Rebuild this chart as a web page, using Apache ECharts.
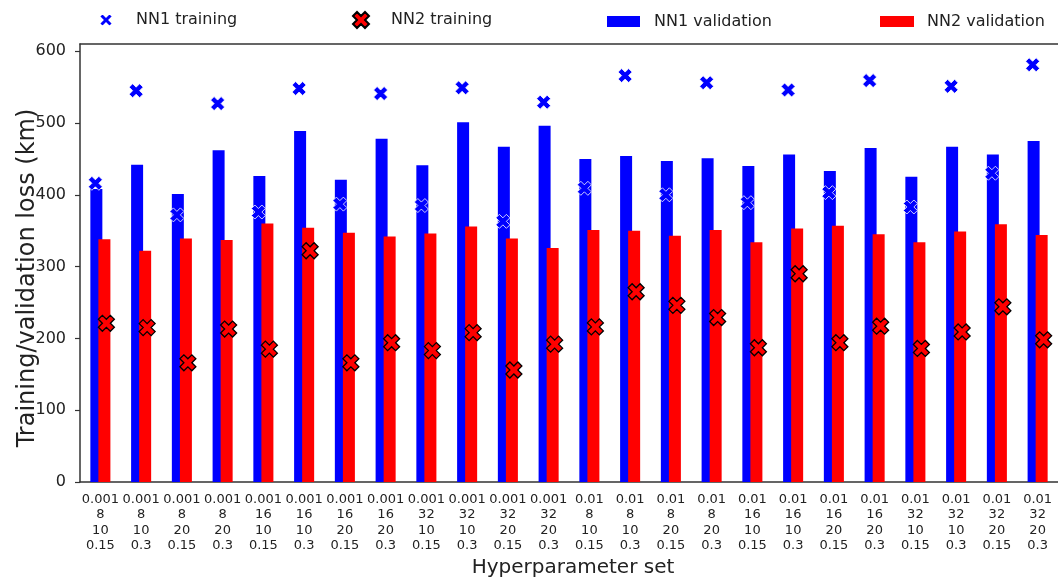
<!DOCTYPE html>
<html>
<head>
<meta charset="utf-8">
<script src="https://cdn.jsdelivr.net/npm/echarts@6/dist/echarts.min.js"></script>
<style>
html,body{margin:0;padding:0;background:#fff;}
#c{width:1058px;height:578px;}
</style>
</head>
<body>
<div id="c"></div>
<script>
const categories = [
  '0.001\n8\n10\n0.15', '0.001\n8\n10\n0.3', '0.001\n8\n20\n0.15', '0.001\n8\n20\n0.3',
  '0.001\n16\n10\n0.15', '0.001\n16\n10\n0.3', '0.001\n16\n20\n0.15', '0.001\n16\n20\n0.3',
  '0.001\n32\n10\n0.15', '0.001\n32\n10\n0.3', '0.001\n32\n20\n0.15', '0.001\n32\n20\n0.3',
  '0.01\n8\n10\n0.15', '0.01\n8\n10\n0.3', '0.01\n8\n20\n0.15', '0.01\n8\n20\n0.3',
  '0.01\n16\n10\n0.15', '0.01\n16\n10\n0.3', '0.01\n16\n20\n0.15', '0.01\n16\n20\n0.3',
  '0.01\n32\n10\n0.15', '0.01\n32\n10\n0.3', '0.01\n32\n20\n0.15', '0.01\n32\n20\n0.3'
];
const nn1Validation = [408, 442, 401, 462, 426, 489, 421, 478, 441, 501, 467, 496, 450, 454, 447, 451, 440, 456, 433, 465, 425, 467, 456, 475];
const nn2Validation = [338, 322, 339, 337, 360, 354, 347, 342, 346, 356, 339, 326, 351, 350, 343, 351, 334, 353, 357, 345, 334, 349, 359, 344];
const nn1Training = [416, 545, 372, 527, 376, 548, 387, 541, 385, 549, 363, 529, 409, 566, 400, 556, 389, 546, 403, 559, 383, 551, 430, 581];
const nn2Training = [221, 215, 166, 213, 185, 322, 166, 194, 183, 208, 156, 192, 216, 265, 246, 229, 187, 290, 194, 217, 186, 209, 244, 198];
const yTicks = [0, 100, 200, 300, 400, 500, 600];

const X_PATH = 'path://M0,2.5 L2.5,0 L5,2.5 L7.5,0 L10,2.5 L7.5,5 L10,7.5 L7.5,10 L5,7.5 L2.5,10 L0,7.5 L2.5,5 Z';
const FONT = 'DejaVu Sans';
const TXT = '#222';

const chart = echarts.init(document.getElementById('c'), null, {renderer: 'canvas'});
const legendText = (pad) => ({fontFamily: FONT, fontSize: 16, color: TXT, padding: [0, 0, 0, pad]});
chart.setOption({
  animation: false,
  backgroundColor: '#fff',
  legend: [
    {data: [{name: 'NN1 training', icon: X_PATH}], left: 98, top: 12, padding: 0, itemWidth: 14, itemHeight: 14, textStyle: legendText(18), selectedMode: false},
    {data: [{name: 'NN2 training', icon: X_PATH}], left: 352, top: 11, padding: 0, itemWidth: 16, itemHeight: 16, textStyle: legendText(17), selectedMode: false},
    {data: [{name: 'NN1 validation', icon: 'rect'}], left: 607, top: 13.5, padding: 0, itemWidth: 33, itemHeight: 11, textStyle: legendText(9), selectedMode: false},
    {data: [{name: 'NN2 validation', icon: 'rect'}], left: 880, top: 13.5, padding: 0, itemWidth: 34, itemHeight: 11, textStyle: legendText(8), selectedMode: false}
  ],
  grid: {left: 80, right: 0, top: 44, bottom: 96, containLabel: false, outerBoundsMode: 'none'},
  xAxis: [
    {
      type: 'category', data: categories, position: 'bottom',
      axisLine: {lineStyle: {color: '#333', width: 1.5}},
      axisTick: {alignWithLabel: true, length: 5, lineStyle: {color: '#333', width: 1.2}},
      axisLabel: {interval: 0, fontFamily: FONT, fontSize: 13, lineHeight: 15.3, color: TXT, margin: 10},
      name: 'Hyperparameter set', nameLocation: 'middle', nameGap: 73,
      nameTextStyle: {fontFamily: FONT, fontSize: 20, color: TXT, padding: [0, 0, 0, 8]}
    },
    {
      type: 'category', data: categories, position: 'top',
      axisLine: {lineStyle: {color: '#333', width: 1.5}},
      axisTick: {show: false}, axisLabel: {show: false}
    }
  ],
  yAxis: {
    type: 'value', min: 0, max: 610,
    axisLine: {show: true, lineStyle: {color: '#333', width: 1.5}},
    axisTick: {show: true, length: 5, customValues: yTicks, lineStyle: {color: '#333', width: 1.2}},
    axisLabel: {customValues: yTicks, fontFamily: FONT, fontSize: 16, color: TXT, margin: 14},
    splitLine: {show: false},
    name: 'Training/validation loss (km)', nameLocation: 'middle', nameGap: 40, nameMoveOverlap: false,
    nameTextStyle: {fontFamily: FONT, fontSize: 24, color: TXT, padding: [0, 30, 0, 0]}
  },
  series: [
    {name: 'NN1 validation', type: 'bar', data: nn1Validation, barWidth: 12, barGap: '-33%', itemStyle: {color: '#0000ff'}},
    {name: 'NN2 validation', type: 'bar', data: nn2Validation, barWidth: 12, barGap: '-33%', itemStyle: {color: '#ff0000'}},
    {name: 'NN1 training', type: 'scatter', data: nn1Training, symbol: X_PATH, symbolSize: 14, symbolOffset: [-5, 0],
     itemStyle: {color: '#0000ff', borderColor: '#ffffff', borderWidth: 0.8, opacity: 1}, z: 3},
    {name: 'NN2 training', type: 'scatter', data: nn2Training, symbol: X_PATH, symbolSize: 16, symbolOffset: [6, 0],
     itemStyle: {color: '#ff0000', borderColor: '#000000', borderWidth: 1.3, opacity: 1}, z: 4}
  ]
});
</script>
</body>
</html>
